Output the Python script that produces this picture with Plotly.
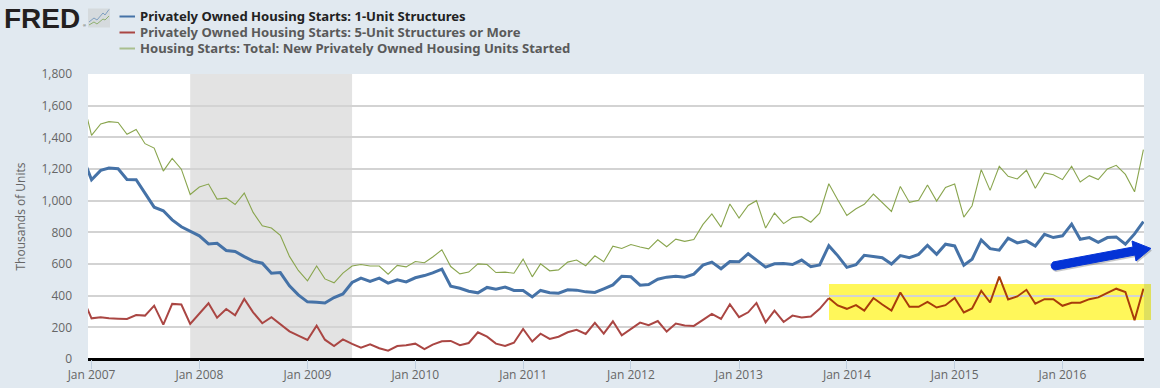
import pandas as pd
import plotly.graph_objects as go

months = pd.date_range("2006-12-01", "2016-10-01", freq="MS").strftime("%Y-%m-%d").tolist()

one_unit = [1280,
 1132,1191,1206,1202,1134,1132,1048,959,936,879,835,807,778,727,731,685,679,647,618,605,
 542,546,462,405,361,359,354,388,411,483,511,490,511,479,500,487,513,527,544,568,
 460,447,428,418,452,441,454,433,433,392,433,418,416,437,435,424,420,443,468,523,
 519,466,471,504,517,523,517,536,593,612,570,616,614,665,622,580,601,603,597,625,
 583,594,716,653,579,596,655,649,640,600,653,640,661,718,661,725,714,592,630,752,
 697,687,763,733,746,714,788,767,778,852,756,767,737,767,771,725,790,868]
five_unit = [389,
 257,264,257,255,253,278,274,337,217,348,344,221,287,352,261,316,276,379,295,226,
 264,222,175,148,120,211,122,82,124,95,72,93,68,53,82,87,97,63,91,112,
 114,87,101,169,141,97,82,103,190,110,160,127,141,169,184,158,228,160,238,150,
 190,230,213,240,173,224,211,209,247,285,253,346,264,295,354,232,306,234,274,262,
 268,317,385,338,317,340,306,385,344,306,420,330,330,361,325,340,385,294,319,431,
 357,520,376,395,437,349,378,378,336,355,355,378,389,416,444,423,245,444]
total = [1649,
 1412,1484,1499,1494,1419,1450,1360,1332,1187,1267,1199,1039,1086,1105,1010,1016,976,1048,926,841,
 827,781,648,559,494,587,506,481,542,587,597,587,587,536,591,582,616,608,644,690,
 584,538,549,601,597,546,549,542,631,519,601,557,563,612,625,589,652,614,713,698,
 723,707,696,753,709,757,743,755,850,916,833,979,890,970,1000,827,922,855,893,899,
 864,921,1107,1006,906,949,977,1042,989,932,1090,989,1002,1099,997,1084,1105,896,968,1196,
 1065,1217,1154,1137,1192,1078,1175,1164,1133,1217,1118,1158,1133,1200,1223,1166,1056,1323]

series_names = ["Privately Owned Housing Starts: 1-Unit Structures",
                "Privately Owned Housing Starts: 5-Unit Structures or More",
                "Housing Starts: Total: New Privately Owned Housing Units Started"]
y_title = "Thousands of Units"
recession = ["2007-12-01", "2009-06-01"]
x_range = ["2006-12-20", "2016-10-03"]
highlight_start = "2013-11-01"

W, H = 1160, 388
L, R, T, B = 88, 16, 74, 29
BLUE, RED, GREEN = "#4572a7", "#aa4643", "#89a54e"

def px(x): return (x - L) / (W - L - R)
def py(y): return (H - B - y) / (H - T - B)
def path(points, close=False):
    s = "M " + " L ".join(f"{px(x):.5f},{py(y):.5f}" for x, y in points)
    return s + (" Z" if close else "")

start = months.index(highlight_start)

fig = go.Figure()
fig.add_trace(go.Scatter(x=months, y=total, mode="lines", name=series_names[2],
                         line=dict(color=GREEN, width=1.1), showlegend=False))
fig.add_trace(go.Scatter(x=months, y=one_unit, mode="lines", name=series_names[0],
                         line=dict(color=BLUE, width=3), showlegend=False))
fig.add_trace(go.Scatter(x=months[:start + 1], y=five_unit[:start + 1], mode="lines", name=series_names[1],
                         line=dict(color=RED, width=2), showlegend=False))
fig.add_trace(go.Scatter(x=months[start:], y=five_unit[start:], mode="lines", name=series_names[1] + " (highlighted)",
                         line=dict(color="#a83c0a", width=2), showlegend=False))

shapes = [dict(type="rect", xref="x", yref="paper", x0=recession[0], x1=recession[1], y0=0, y1=1,
               fillcolor="#e3e3e3", line_width=0, layer="below")]
# yellow highlight band, tinted where it runs over the page background
shapes.append(dict(type="rect", xref="paper", yref="paper", x0=px(829), x1=1, y0=py(320), y1=py(284),
                   fillcolor="#fff75a", line_width=0, layer="below"))
shapes.append(dict(type="rect", xref="paper", yref="paper", x0=1, x1=px(1151), y0=py(320), y1=py(284),
                   fillcolor="#dfe05e", line_width=0, layer="below"))
shapes.append(dict(type="line", xref="paper", yref="y", x0=px(829), x1=1, y0=400, y1=400,
                   line=dict(color="#cfc95a", width=1.5), layer="between"))
# blue arrow (shadow, then arrow)
arrow = [(1053, 262), (1133, 247), (1132, 241), (1151, 248.5), (1136, 261), (1135, 255), (1055, 270), (1052, 268.5), (1051, 265)]
shapes.append(dict(type="path", xref="paper", yref="paper", path=path([(x + 1, y + 2) for x, y in arrow], True),
                   fillcolor="rgba(60,60,60,0.28)", line_width=0, layer="above"))
shapes.append(dict(type="path", xref="paper", yref="paper", path=path(arrow, True),
                   fillcolor="#0433d6", line=dict(color="#0433d6", width=1), layer="above"))
# legend keys
for yy, c in ((16.5, BLUE), (32.5, RED), (48.5, "#a9bf8e")):
    shapes.append(dict(type="line", xref="paper", yref="paper", x0=px(119.5), x1=px(135), y0=py(yy), y1=py(yy),
                       line=dict(color=c, width=2)))
# logo icon
shapes.append(dict(type="rect", xref="paper", yref="paper", x0=px(88), x1=px(110), y0=py(27.5), y1=py(8.5),
                   fillcolor="#d5dadd", line_width=0))
shapes.append(dict(type="path", xref="paper", yref="paper",
                   path=path([(89, 22), (94, 18), (97, 20), (103, 13), (105, 15), (109, 9.5)]),
                   line=dict(color="#7f9fc0", width=1)))
shapes.append(dict(type="path", xref="paper", yref="paper",
                   path=path([(89, 25), (94, 22), (97, 24), (103, 19), (105, 20), (109, 16)]),
                   line=dict(color="#8fb070", width=1)))

LEG_FONT = "Noto Sans"
LEG_SIZE = 13.1
ann = [
    dict(text="<b>FRED</b>", x=px(4), y=py(18), xanchor="left", yanchor="middle",
         font=dict(family="Liberation Sans", size=28, color="#231f20")),
    dict(text="®", x=px(82.5), y=py(26), xanchor="left", yanchor="middle",
         font=dict(family="Liberation Sans", size=4, color="#231f20")),
    dict(text=f"<b>{series_names[0]}</b>", x=px(140), y=py(16), xanchor="left", yanchor="middle",
         font=dict(family=LEG_FONT, size=LEG_SIZE, color="#222222")),
    dict(text=f"<b>{series_names[1]}</b>", x=px(140), y=py(32), xanchor="left", yanchor="middle",
         font=dict(family=LEG_FONT, size=LEG_SIZE, color="#5a5a5a")),
    dict(text=f"<b>{series_names[2]}</b>", x=px(140), y=py(48), xanchor="left", yanchor="middle",
         font=dict(family=LEG_FONT, size=LEG_SIZE, color="#5a5a5a")),
]
for a in ann:
    a.update(xref="paper", yref="paper", showarrow=False, borderpad=0, borderwidth=0)

fig.update_layout(
    width=W, height=H, margin=dict(l=L, r=R, t=T, b=B, pad=0, autoexpand=False),
    paper_bgcolor="#e1e9f0", plot_bgcolor="#ffffff",
    font=dict(family="Open Sans", size=12, color="#666666"),
    showlegend=False, shapes=shapes, annotations=ann,
    xaxis=dict(type="date", range=x_range, dtick="M12", tick0="2007-01-01", tickformat="%b %Y",
               automargin=False, showgrid=False, ticks="outside", ticklen=9, tickwidth=1, tickcolor="#c0d0e0",
               showline=False, zeroline=False, ticklabelstandoff=-4, tickfont=dict(size=12, color="#666666")),
    yaxis=dict(range=[0, 1800], dtick=200, tickformat=",d", gridcolor="#d3d3d3", gridwidth=1.5,
               automargin=False, zeroline=True, zerolinecolor="#000000", zerolinewidth=2.5, showline=False,
               ticks="", ticklabelstandoff=15, tickfont=dict(size=12, color="#666666"),
               title=dict(text=y_title, font=dict(size=12, color="#666666"), standoff=13)),
)
fig.write_html("out.html", config=dict(displayModeBar=False),
               post_script="document.body.style.margin='0';document.documentElement.style.overflow='hidden';")
